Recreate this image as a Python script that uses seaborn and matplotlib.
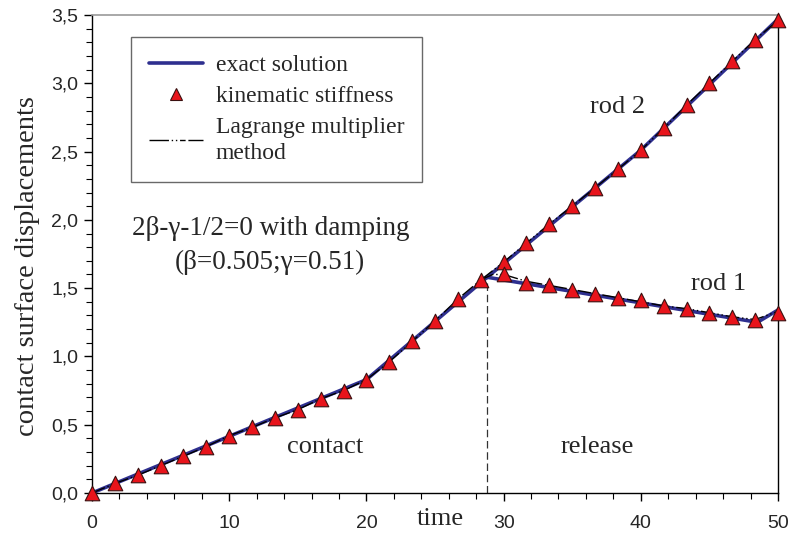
import numpy as np
import pandas as pd
import matplotlib
matplotlib.use("Agg")
import matplotlib.pyplot as plt
from matplotlib.lines import Line2D
import seaborn as sns

# ---------------- data ----------------
# kinematic stiffness (triangles), sampled every 5/3 time units
t_contact = [0, 1.667, 3.333, 5, 6.667, 8.333, 10, 11.667, 13.333, 15, 16.667,
             18.333, 20, 21.667, 23.333, 25, 26.667, 28.333]
u_contact = [0.0, 0.07, 0.13, 0.20, 0.27, 0.34, 0.42, 0.48, 0.55, 0.61, 0.69,
             0.75, 0.83, 0.96, 1.11, 1.26, 1.42, 1.56]
t_release = [30, 31.667, 33.333, 35, 36.667, 38.333, 40, 41.667, 43.333, 45,
             46.667, 48.333, 50]
u_rod2 = [1.69, 1.83, 1.97, 2.10, 2.235, 2.37, 2.51, 2.67, 2.84, 3.00, 3.16, 3.32, 3.46]
u_rod1 = [1.60, 1.54, 1.52, 1.49, 1.46, 1.43, 1.41, 1.37, 1.35, 1.32, 1.29, 1.27, 1.32]

# exact solution (piecewise linear)
t_exact_contact = [0, 20, 28.8]
u_exact_contact = [0.0, 0.83, 1.58]
t_exact_rod2 = [28.8, 40, 50]
u_exact_rod2 = [1.58, 2.51, 3.47]
t_exact_rod1 = [28.8, 48.5, 50]
u_exact_rod1 = [1.58, 1.25, 1.34]

# Lagrange multiplier method
t_lag_rod1 = [28.333, 29.2, 30, 31.667, 33.333, 35, 36.667, 38.333, 40, 41.667,
              43.333, 45, 46.667, 48.333, 50]
u_lag_rod1 = [1.56, 1.60, 1.60, 1.55, 1.52, 1.49, 1.46, 1.43, 1.40, 1.37,
              1.35, 1.32, 1.29, 1.27, 1.33]

release_time = 28.8
release_disp = 1.57

y_ticks = [0.0, 0.5, 1.0, 1.5, 2.0, 2.5, 3.0, 3.5]
y_ticklabels = ["0,0", "0,5", "1,0", "1,5", "2,0", "2,5", "3,0", "3,5"]
x_ticks = [0, 10, 20, 30, 40, 50]
x_ticklabels = ["0", "10", "20", "30", "40", "50"]

# ---------------- styling ----------------
sns.set_theme(style="white")
plt.rcParams["font.family"] = ["Liberation Sans", "DejaVu Sans"]
serif = ["Liberation Serif", "DejaVu Serif"]

BLUE = "#2E2F8F"
RED = "#E8141B"

fig = plt.figure(figsize=(7.89, 5.35), dpi=100)
ax = fig.add_axes([92 / 789, 1 - 493 / 535, 686 / 789, 478 / 535])

# exact solution
for tx, ux in [(t_exact_contact, u_exact_contact), (t_exact_rod2, u_exact_rod2),
               (t_exact_rod1, u_exact_rod1)]:
    sns.lineplot(x=tx, y=ux, ax=ax, color=BLUE, linewidth=2.6, sort=False,
                 estimator=None, zorder=2)

# Lagrange multiplier line
dash = (10, 2, 1, 2, 1, 2)
t_lag2 = t_contact + t_release
u_lag2 = u_contact + u_rod2
sns.lineplot(x=t_lag2, y=u_lag2, ax=ax, color="black", linewidth=1.0,
             sort=False, estimator=None, zorder=3)
ax.lines[-1].set_dashes(dash)
sns.lineplot(x=t_lag_rod1, y=u_lag_rod1, ax=ax, color="black", linewidth=1.0,
             sort=False, estimator=None, zorder=3)
ax.lines[-1].set_dashes(dash)

# kinematic stiffness markers
tri = pd.DataFrame({
    "t": t_contact + t_release + t_release,
    "u": u_contact + u_rod2 + u_rod1,
})
sns.scatterplot(data=tri, x="t", y="u", ax=ax, marker="^", s=110, color=RED,
                edgecolor="#3a1010", linewidth=0.8, zorder=4, clip_on=False)

# release line
ax.plot([release_time, release_time], [0, release_disp], color="#333333",
        linewidth=0.9, linestyle=(0, (6, 3)), zorder=1)

# axes
ax.set_xlim(0, 50)
ax.set_ylim(0, 3.5)
ax.set_xticks(x_ticks)
ax.set_xticklabels(x_ticklabels, fontsize=14)
ax.set_yticks(y_ticks)
ax.set_yticklabels(y_ticklabels, fontsize=14)
ax.set_xticks(np.arange(0, 51, 2), minor=True)
ax.set_yticks(np.arange(0, 3.51, 0.1), minor=True)
ax.tick_params(axis="both", which="major", direction="out", length=6, width=1,
               color="black", bottom=True, left=True, pad=4)
ax.tick_params(axis="both", which="minor", direction="out", length=4, width=0.8,
               color="black", bottom=True, left=True)
ax.tick_params(axis="x", pad=10)

for s in ["left", "bottom", "right"]:
    ax.spines[s].set_color("black")
    ax.spines[s].set_linewidth(1.0)
ax.spines["top"].set_color("#999999")
ax.spines["top"].set_linewidth(1.2)

ax.set_xlabel("time", fontsize=19, family=serif)
ax.xaxis.set_label_coords((440 - 92) / 686, -0.032)
ax.set_ylabel("contact surface displacements", fontsize=20.5, family=serif)
ax.yaxis.set_label_coords(-0.076, 0.475)

# annotations
ax.text(13.0, 1.94, "2β-γ-1/2=0 with damping", fontsize=19.5, family=serif,
        ha="center", va="center")
ax.text(13.0, 1.69, "(β=0.505;γ=0.51)", fontsize=19.5, family=serif,
        ha="center", va="center")
ax.text(38.3, 2.83, "rod 2", fontsize=19, family=serif, ha="center", va="center")
ax.text(45.7, 1.53, "rod 1", fontsize=19, family=serif, ha="center", va="center")
ax.text(17.0, 0.34, "contact", fontsize=19, family=serif, ha="center", va="center")
ax.text(36.8, 0.34, "release", fontsize=19, family=serif, ha="center", va="center")

# legend
handles = [
    Line2D([], [], color=BLUE, linewidth=2.6),
    Line2D([], [], color=RED, marker="^", linestyle="none", markersize=9,
           markeredgecolor="#3a1010", markeredgewidth=0.8),
    Line2D([], [], color="black", linewidth=1.0, dashes=(14, 2, 1, 2, 1, 2, 4, 2)),
]
labels = ["exact solution", "kinematic stiffness", "Lagrange multiplier\nmethod"]
leg = ax.legend(handles, labels, loc="upper left",
                bbox_to_anchor=((131 - 92) / 686, (493 - 37) / 478),
                prop={"family": serif, "size": 17}, frameon=True, fancybox=False,
                handlelength=2.3, handletextpad=0.55, labelspacing=0.4,
                borderpad=0.75, borderaxespad=0.0)
for txt in leg.get_texts():
    txt.set_linespacing(1.35)
leg.get_frame().set_edgecolor("#444444")
leg.get_frame().set_linewidth(1.0)

fig.savefig("out.png", dpi=100)
